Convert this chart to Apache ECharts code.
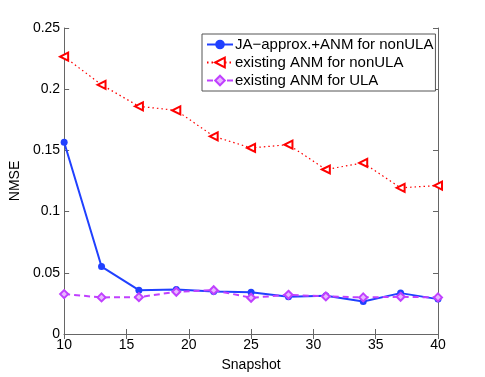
<!DOCTYPE html>
<html><head><meta charset="utf-8">
<script src="https://cdn.jsdelivr.net/npm/echarts@6/dist/echarts.min.js"></script>
<style>html,body{margin:0;padding:0;background:#fff}#c{width:485px;height:377px}</style>
</head><body><div id="c"></div>
<script>
const snapshots = [10, 13, 16, 19, 22, 25, 28, 31, 34, 37, 40];
const jaApproxNonULA = [0.1566, 0.0551, 0.0358, 0.0364, 0.0347, 0.0342, 0.0304, 0.0312, 0.0266, 0.0334, 0.0285];
const existingNonULA = [0.2266, 0.2036, 0.1860, 0.1827, 0.1615, 0.1520, 0.1547, 0.1344, 0.1398, 0.1194, 0.1213];
const existingULA = [0.0326, 0.0299, 0.0301, 0.0345, 0.0358, 0.0296, 0.0320, 0.0307, 0.0299, 0.0304, 0.0299];
const seriesNames = ['JA\u2212approx.+ANM for nonULA', 'existing ANM for nonULA', 'existing ANM for ULA'];
const xTicks = {min: 10, max: 40, interval: 5};
const yTicks = {min: 0, max: 0.25, interval: 0.05};

const pairs = ys => snapshots.map((x, i) => [x, ys[i]]);
const font = 'Liberation Sans, Arial, sans-serif';
const axisColor = '#666';

const chart = echarts.init(document.getElementById('c'), null, {renderer: 'canvas'});
const baseX = {
  type: 'value', min: xTicks.min, max: xTicks.max, interval: xTicks.interval,
  axisLine: {show: true, lineStyle: {color: axisColor, width: 1}},
  axisTick: {show: true, inside: true, length: 5, lineStyle: {color: axisColor}},
  splitLine: {show: false}
};
const baseY = {
  type: 'value', min: yTicks.min, max: yTicks.max, interval: yTicks.interval,
  axisLine: {show: true, lineStyle: {color: axisColor, width: 1}},
  axisTick: {show: true, inside: true, length: 5, lineStyle: {color: axisColor}},
  splitLine: {show: false}
};
chart.setOption({
  animation: false,
  backgroundColor: '#fff',
  grid: {left: 63, right: 47, top: 28, bottom: 42},
  xAxis: [
    Object.assign({}, baseX, {
      position: 'bottom', name: 'Snapshot', nameLocation: 'middle', nameGap: 24,
      nameTextStyle: {fontFamily: font, fontSize: 14, color: '#000'},
      axisLabel: {fontFamily: font, fontSize: 14, color: '#000', margin: 4}
    }),
    Object.assign({}, baseX, {position: 'top', axisLabel: {show: false}})
  ],
  yAxis: [
    Object.assign({}, baseY, {
      position: 'left', name: 'NMSE', nameLocation: 'middle', nameGap: 37,
      nameTextStyle: {fontFamily: font, fontSize: 14, color: '#000'},
      axisLabel: {fontFamily: font, fontSize: 14, color: '#000', margin: 4}
    }),
    Object.assign({}, baseY, {position: 'right', axisLabel: {show: false}})
  ],
  legend: {
    orient: 'vertical', left: 202, top: 34,
    backgroundColor: '#fff', borderColor: '#555', borderWidth: 1,
    padding: [3, 2, 3, 4], itemGap: 3, itemWidth: 26, itemHeight: 12,
    textStyle: {fontFamily: font, fontSize: 15, color: '#000', padding: [0, 0, 0, -3]},
    data: seriesNames
  },
  series: [
    {
      name: seriesNames[0], type: 'line', data: pairs(jaApproxNonULA),
      symbol: 'circle', symbolSize: 7,
      lineStyle: {color: '#2040ff', width: 2},
      itemStyle: {color: '#2040ff'}
    },
    {
      name: seriesNames[1], type: 'line', data: pairs(existingNonULA),
      symbol: 'triangle', symbolRotate: 90, symbolSize: 8,
      lineStyle: {color: '#ff0000', width: 1.2, type: [1.5, 3]},
      itemStyle: {color: '#fff', borderColor: '#ff0000', borderWidth: 2}
    },
    {
      name: seriesNames[2], type: 'line', data: pairs(existingULA),
      symbol: 'diamond', symbolSize: 8,
      lineStyle: {color: '#c040ff', width: 2, type: [6, 4]},
      itemStyle: {color: '#e8b8ff', borderColor: '#c040ff', borderWidth: 2}
    }
  ]
});
</script></body></html>
